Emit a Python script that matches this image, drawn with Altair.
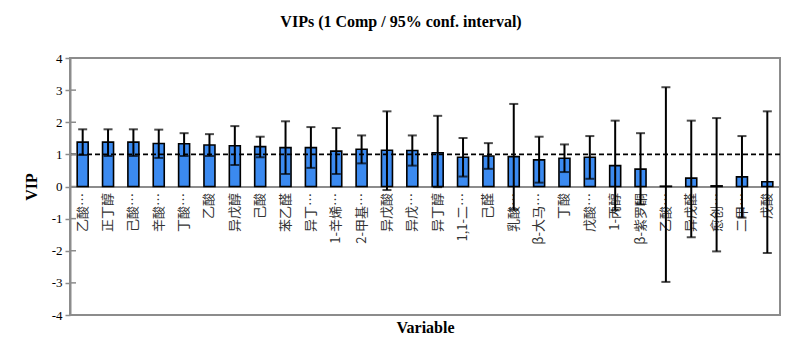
import altair as alt
import pandas as pd

names = ["乙酸…", "正丁醇", "己酸…", "辛酸…", "丁酸…", "乙酸", "异戊醇", "己酸", "苯乙醛",
         "异丁…", "1-辛烯…", "2-甲基…", "异戊酸", "异戊…", "异丁醇", "1,1-二…", "己醛",
         "乳酸…", "β-大马…", "丁酸", "戊酸…", "1-丙醇", "β-紫罗酮", "乙酸… ", "异戊醛",
         "愈创…", "二甲…", "戊酸"]
vip = [1.38, 1.38, 1.38, 1.34, 1.33, 1.29, 1.27, 1.24, 1.21, 1.21, 1.10, 1.16, 1.13, 1.12,
       1.05, 0.91, 0.95, 0.93, 0.83, 0.88, 0.91, 0.65, 0.54, 0.01, 0.26, 0.02, 0.30, 0.15]
upper = [1.78, 1.78, 1.78, 1.77, 1.66, 1.63, 1.88, 1.55, 2.03, 1.85, 1.82, 1.59, 2.34, 1.59,
         2.20, 1.51, 1.35, 2.57, 1.55, 1.31, 1.57, 2.05, 1.66, 3.09, 2.05, 2.13, 1.57, 2.34]
lower = [0.98, 0.95, 0.95, 0.89, 0.95, 0.95, 0.67, 0.91, 0.39, 0.58, 0.39, 0.72, -0.11, 0.65,
         -0.02, 0.31, 0.55, -0.72, 0.12, 0.45, 0.24, -0.74, -0.56, -2.97, -1.58, -2.02, -0.97, -2.07]
y_ticks = [-4, -3, -2, -1, 0, 1, 2, 3, 4]
threshold = [1]

df = pd.DataFrame({"name": names, "vip": vip, "lo": lower, "hi": upper})

GRAY = "#8c8c8c"
SERIF = "Liberation Serif, Times New Roman, serif"
CJK = "Noto Sans CJK SC"

x_scale = alt.Scale(paddingInner=0, paddingOuter=0)
x_axis = alt.Axis(orient="bottom", offset=-128.5, domainColor=GRAY, domainWidth=2,
                  ticks=False, labelAngle=270, labelFont=CJK, labelFontSize=13,
                  labelColor="#333333", labelPadding=6, labelLimit=200,
                  titleFont=SERIF, titleFontSize=16,
                  titleFontWeight="bold", titleColor="black",
                  titleBaseline="middle", titleY=141)
y_scale = alt.Scale(domain=[-4, 4], nice=False, zero=False)
y_axis = alt.Axis(values=y_ticks, grid=False, labelFont=SERIF, labelFontSize=13,
                  labelColor="black", labelOverlap=False, labelExpr="'' + datum.value",
                  tickSize=5, tickColor=GRAY, tickWidth=1.5,
                  domainColor=GRAY, domainWidth=2, labelPadding=3,
                  titleFont=SERIF, titleFontSize=16, titleFontWeight="bold",
                  titleColor="black", titlePadding=12)


def xe():
    return alt.X("name:N", sort=None, scale=x_scale, axis=x_axis, title="Variable")


def ye(field):
    return alt.Y(field, scale=y_scale, axis=y_axis, title="VIP")


base = alt.Chart(df)

bars = base.mark_bar(size=11, fill="#3b8af0", stroke="black", strokeWidth=1.6).encode(
    x=xe(), y=ye("vip:Q"))

dash = alt.Chart(pd.DataFrame({"ref": threshold})).mark_rule(
    color="black", strokeDash=[5, 3], strokeWidth=1.8).encode(y=ye("ref:Q"))

inner_ticks = alt.Chart(pd.DataFrame({"t": y_ticks})).mark_rule(
    color=GRAY, strokeWidth=1.5).encode(y=ye("t:Q"), x=alt.value(0), x2=alt.value(6))

whisk = base.mark_rule(color="black", strokeWidth=2).encode(
    x=xe(), y=ye("lo:Q"), y2="hi:Q")
cap_hi = base.mark_tick(color="black", size=9, thickness=2).encode(
    x=xe(), y=ye("hi:Q"))
cap_lo = base.mark_tick(color="black", size=9, thickness=2).encode(
    x=xe(), y=ye("lo:Q"))

chart = alt.layer(bars, dash, inner_ticks, whisk, cap_hi, cap_lo).properties(
    width=710, height=257,
    autosize=alt.AutoSizeParams(type="none"),
    padding={"left": 62, "top": 50, "right": 12, "bottom": 37},
    title=alt.TitleParams("VIPs (1 Comp / 95% conf. interval)", font=SERIF, fontSize=16,
                          fontWeight="bold", color="black", anchor="middle", offset=22, dx=-24),
).configure_view(stroke=GRAY, strokeWidth=2)

chart.save("out.html", embed_options={"renderer": "svg", "actions": False})
